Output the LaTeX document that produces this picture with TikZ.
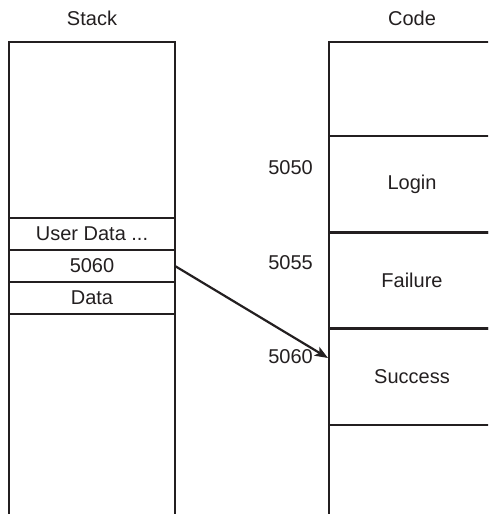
\documentclass[tikz,border=0pt]{standalone}
\usepackage{fontspec}
\setmainfont{Liberation Sans}
\usetikzlibrary{arrows.meta, positioning, calc}
\definecolor{tinta}{RGB}{35, 31, 32}
\tikzset{
  texto/.style={font=\fontsize{20}{23}\selectfont, text=tinta, inner sep=0pt},
  celula/.style={texto, draw=tinta, line width=2.6pt, outer sep=0pt,
    minimum width=166pt},
  coluna/.style={draw=tinta, line width=2.6pt},
}

\begin{document}
\begin{tikzpicture}[
    x=1pt, y=-1pt,
    endereco/.style={texto, anchor=east},
    seta/.style={
        -{Stealth[length=13pt, width=10pt, inset=3pt]},
        draw=tinta,
        line width=2.2pt
    }
]
\clip (0,0) rectangle (488,514);

% titles
\node[texto] (tstack) at (92,18) {Stack};
\node[texto] (tcode) at (412,18) {Code};

% stack column
\draw[coluna] (9,514) -- (9,42) -- (175,42) -- (175,514);
\node[celula, minimum height=32pt] (usuario) at (92,234) {User Data ...};
\node[celula, minimum height=32pt, below=0pt of usuario] (v5060) {5060};
\node[celula, minimum height=32pt, below=0pt of v5060] (dados) {Data};

% code column
\draw[coluna] (495,42) -- (329,42) -- (329,514);
\node[celula, minimum height=96.3pt] (login) at (412,184.2) {Login};
\node[celula, minimum height=96.3pt, below=0pt of login] (falha) {Failure};
\node[celula, minimum height=96.3pt, below=0pt of falha] (sucesso) {Success};

% addresses
\node[endereco] (e5050) at (313,168) {5050};
\node[endereco] (e5055) at (313,263) {5055};
\node[endereco] (e5060) at (313,357) {5060};

\coordinate (alvo) at (328,358);
\draw[seta] (v5060.east) -- (alvo);

\end{tikzpicture}
\end{document}
